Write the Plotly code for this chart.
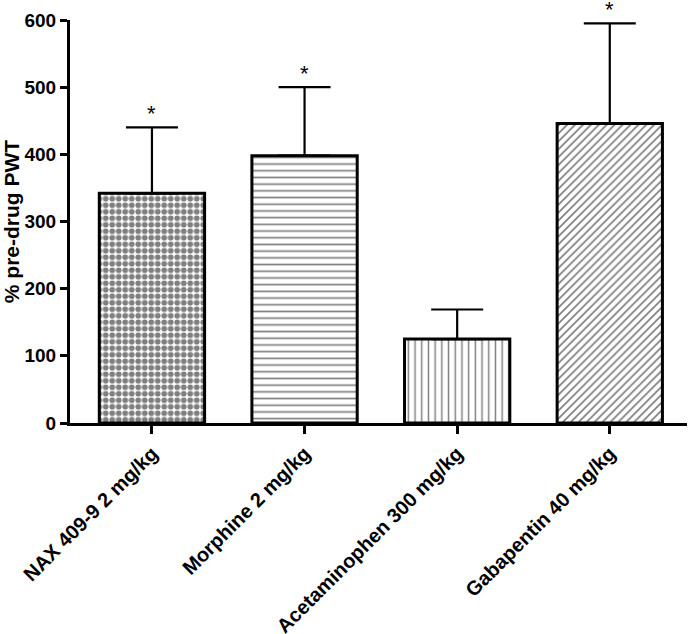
import plotly.graph_objects as go

categories = ["NAX 409-9 2 mg/kg", "Morphine 2 mg/kg", "Acetaminophen 300 mg/kg", "Gabapentin 40 mg/kg"]
values = [342, 398, 125, 446]
errors_plus = [98, 102, 44, 149]
significance = ["*", "*", "", "*"]
y_ticks = [0, 100, 200, 300, 400, 500, 600]

FONT = "Liberation Sans, Arial, sans-serif"

fig = go.Figure()
fig.add_trace(go.Bar(
    x=categories,
    y=values,
    width=0.69,
    marker=dict(
        color="white",
        line=dict(color="black", width=3),
        pattern=dict(
            shape=[".", "-", "|", "/"],
            size=[6.5, 6.7, 6.7, 5.6],
            solidity=[0.62, 0.25, 0.22, 0.3],
            fgcolor="black",
            bgcolor="white",
            fillmode="overlay",
        ),
    ),
    error_y=dict(
        type="data",
        symmetric=False,
        array=errors_plus,
        arrayminus=[0] * len(values),
        color="black",
        thickness=2.2,
        width=26,
    ),
    showlegend=False,
    hoverinfo="skip",
))

for c, v, e, s in zip(categories, values, errors_plus, significance):
    if s:
        fig.add_annotation(
            x=c, y=v + e, text=s, showarrow=False,
            yanchor="middle", yshift=14,
            font=dict(family=FONT, size=22, color="black"),
        )

fig.update_layout(
    width=690, height=634,
    margin=dict(l=70, r=3, t=20, b=211),
    paper_bgcolor="white",
    plot_bgcolor="white",
    font=dict(family=FONT, color="black"),
)

fig.update_xaxes(
    type="category",
    range=[-0.537, 3.506],
    automargin=False,
    showline=True, linecolor="black", linewidth=3,
    ticks="outside", ticklen=8, tickwidth=3, tickcolor="black",
    tickangle=-45,
    ticklabelstandoff=0,
    tickfont=dict(family=FONT, size=20, color="black", weight="bold"),
    showgrid=False, zeroline=False,
)

fig.update_yaxes(
    range=[0, 600],
    automargin=False,
    tickvals=y_ticks,
    ticktext=[str(t) for t in y_ticks],
    showline=True, linecolor="black", linewidth=3,
    ticks="outside", ticklen=7, tickwidth=2.5, tickcolor="black",
    tickfont=dict(family=FONT, size=19, color="black", weight="bold"),
    title=dict(text="% pre-drug PWT", font=dict(family=FONT, size=21, color="black", weight="bold"), standoff=8),
    showgrid=False, zeroline=False,
)

# remove the browser's default 8px page margin so the figure fills the window exactly
fig.write_html(
    "out.html",
    config={"displayModeBar": False},
    post_script="document.body.style.margin='0';",
)
